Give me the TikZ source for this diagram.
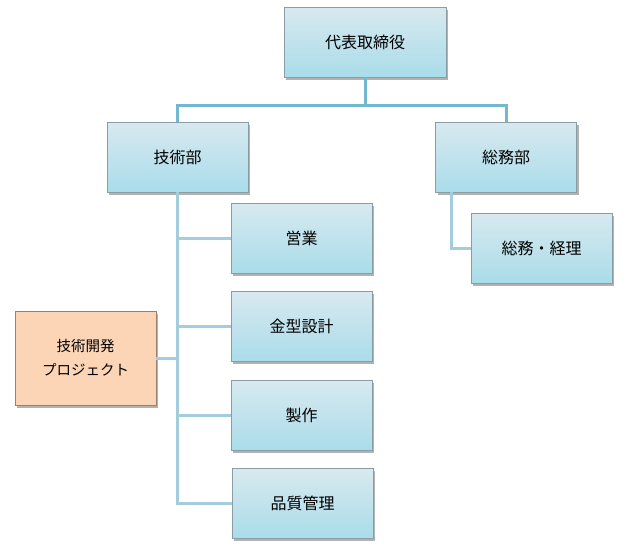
\documentclass[tikz,border=0pt]{standalone}
\usepackage{fontspec}
\setmainfont{Noto Sans CJK JP}
\usetikzlibrary{positioning,shadows}

\definecolor{boxtop}{HTML}{D8E9EF}
\definecolor{boxbot}{HTML}{A9DCEA}
\definecolor{boxline}{HTML}{8A9CA4}
\definecolor{projfill}{HTML}{FBD5B5}
\definecolor{projline}{HTML}{9A8070}
\definecolor{mainlink}{HTML}{72B8D0}
\definecolor{sublink}{HTML}{A3CDDD}

\begin{document}
\begin{tikzpicture}[
    x=1pt, y=-1pt,
    font=\fontsize{16}{24}\selectfont,
    node distance=18pt and 18pt,
    box/.style={
        draw=boxline,
        line width=0.8pt,
        top color=boxtop,
        bottom color=boxbot,
        align=center,
        minimum width=141pt,
        minimum height=70pt,
        drop shadow={shadow xshift=2pt, shadow yshift=-2.5pt, fill=black, opacity=0.3}
    },
    projbox/.style={
        box,
        font=\fontsize{14.5}{24}\selectfont,
        fill=projfill,
        top color=projfill,
        bottom color=projfill,
        draw=projline,
        minimum height=94pt
    },
    toplink/.style={
        draw=mainlink,
        line width=3pt
    },
    sublink/.style={
        draw=sublink,
        line width=3pt
    }
]
\useasboundingbox (0,0) rectangle (634,547);

% Top level
\node[box, minimum width=162pt] (ceo) at (365,42) {代表取締役};

\node[box] (tech) at (177.5,157) {技術部};
\node[box] (general) at (506,157) {総務部};

% Sections under the technical department
\node[box] (sales) at (301.5,238) {営業};
\node[box, below=of sales] (mold) {金型設計};
\node[box, below=of mold] (make) {製作};
\node[box, below=17pt of make, xshift=1pt] (quality) {品質管理};

\node[projbox] (project) at (85.5,358) {技術開発\\プロジェクト};

% Section under general affairs
\node[box] (accounts) at (541.5,248) {総務・経理};

% Links
\draw[sublink] (tech.south) |- (sales.west);
\draw[sublink] (tech.south) |- (mold.west);
\draw[sublink] (tech.south) |- (make.west);
\draw[sublink] (tech.south) |- (quality.west);
\draw[sublink] (tech.south) |- (project.east);

\draw[sublink]
    ([xshift=16pt]general.south west)
    |- (accounts.west);

\draw[toplink]
    (ceo.south)
    -- ++(0,28)
    -| (tech.north);
\draw[toplink]
    (ceo.south)
    -- ++(0,28)
    -| (general.north);

\end{tikzpicture}
\end{document}
